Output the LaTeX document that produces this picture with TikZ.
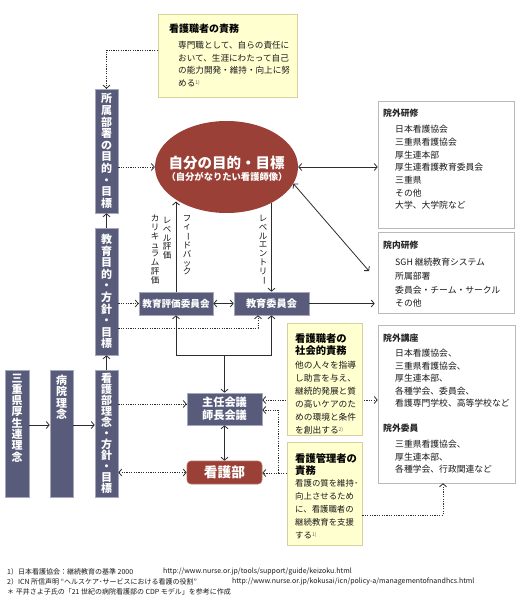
\documentclass[tikz,border=0pt]{standalone}
\usepackage{fontspec}
\setmainfont{Noto Sans CJK JP}
\usepackage{graphicx}
\usetikzlibrary{arrows.meta,shapes.geometric}
\definecolor{barc}{RGB}{88,91,121}
\definecolor{barb}{RGB}{165,167,190}
\definecolor{redc}{RGB}{154,64,54}
\definecolor{yelf}{RGB}{255,255,208}
\definecolor{yeld}{RGB}{214,208,160}
\definecolor{boxd}{RGB}{185,185,185}
\definecolor{lnc}{RGB}{45,45,45}
\newcommand{\tcho}{\rotatebox[origin=c]{-90}{ー}}
\begin{document}
\begin{tikzpicture}[x=1pt,y=-1pt,
  >={Straight Barb[length=3pt,width=7pt]},
  myln/.style={draw=lnc,line width=0.8pt},
  mydt/.style={draw=lnc,line width=0.8pt,dash pattern=on 1.2pt off 1.2pt},
  mybar/.style={rectangle,fill=barc,draw=barb,line width=0.6pt,inner sep=0pt,text=white,align=center,font=\bfseries\fontsize{11}{11.6}\selectfont},
  barlbl/.style={anchor=north,inner sep=0pt,text=white,align=center,font=\bfseries\fontsize{11}{11.3}\selectfont},
  mycbox/.style={rectangle,fill=barc,draw=barb,line width=0.6pt,inner sep=0pt,text=white,font=\bfseries\fontsize{9.6}{11}\selectfont},
  myybox/.style={rectangle,fill=yelf,draw=yeld,line width=0.6pt},
  mywbox/.style={rectangle,fill=white,draw=boxd,line width=0.6pt},
  myttl/.style={anchor=west,inner sep=0pt,text=black!85,font=\bfseries\fontsize{8.8}{10}\selectfont},
  myitm/.style={anchor=north west,inner sep=0pt,align=left,text=black!90,font=\fontsize{8.8}{12.7}\selectfont},
  vlab/.style={anchor=north,inner sep=0pt,align=center,text=black!90,font=\fontsize{8.5}{8.75}\selectfont},
  myfn/.style={anchor=west,inner sep=0pt,text=black!90,font=\fontsize{7}{8}\selectfont}]
\useasboundingbox (0,0) rectangle (520,612);
\fill[white] (0,0) rectangle (520,612);

% left bars
\node[mybar,minimum width=23,minimum height=124] (b1) at (106.5,151) {所\\属\\部\\署\\の\\目\\的\\・\\目\\標};
\node[mybar,minimum width=23,minimum height=127] (b2) at (106.5,291.5) {教\\育\\目\\的\\・\\方\\針\\・\\目\\標};
\node[mybar,minimum width=23,minimum height=127,font=\bfseries\fontsize{11}{11}\selectfont] (b3) at (106.5,433.5) {看\\護\\部\\理\\念\\・\\方\\針\\・\\目\\標};
\node[mybar,minimum width=24,minimum height=127] (b4) at (17,433.5) {};
\node[barlbl] (b4t) at (17,373.5) {三\\重\\県\\厚\\生\\連\\理\\念};
\node[mybar,minimum width=23,minimum height=127] (b5) at (61.5,433.5) {};
\node[barlbl] (b5t) at (61.5,375) {病\\院\\理\\念};

% committees
\node[mycbox,minimum width=74,minimum height=23] (c1) at (176,303.5) {教育評価委員会};
\node[mycbox,minimum width=75,minimum height=23,font=\bfseries\fontsize{10.2}{12}\selectfont] (c2) at (271.5,303.5) {教育委員会};
\node[mycbox,minimum width=75,minimum height=32,align=center,font=\bfseries\fontsize{11.2}{12.6}\selectfont] (m1) at (224.5,409) {主任会議\\師長会議};
\node[rectangle,rounded corners=4pt,fill=redc,draw=redc!75!white,line width=0.6pt,minimum width=75,minimum height=23,inner sep=0pt,text=white,font=\bfseries\fontsize{13.7}{15}\selectfont] (kb) at (224.5,472.5) {看護部};

% ellipse
\node[ellipse,fill=redc,minimum width=143,minimum height=92,inner sep=0pt] (ell) at (226.5,167) {};
\node[inner sep=0pt,text=white,font=\bfseries\fontsize{14.5}{16}\selectfont] (et1) at (226.5,163) {自分の目的・目標};
\node[inner sep=0pt,text=white,font=\bfseries\fontsize{9.3}{11}\selectfont] (et2) at (227,176.5) {（自分がなりたい看護師像）};

% right boxes
\node[mywbox,minimum width=136,minimum height=127] (r1) at (446,164.5) {};
\node[myttl] (r1t) at (383,113) {院外研修};
\node[myitm] (r1i) at (395,125) {日本看護協会\\三重県看護協会\\厚生連本部\\厚生連看護教育委員会\\三重県\\その他\\大学、大学院など};
\node[mywbox,minimum width=136,minimum height=81] (r2) at (446,272.5) {};
\node[myttl] (r2t) at (383,245) {院内研修};
\node[myitm,font=\fontsize{8.8}{13.7}\selectfont] (r2i) at (395,258) {SGH 継続教育システム\\所属部署\\委員会・チーム・サークル\\その他};
\node[mywbox,minimum width=137,minimum height=158] (r3) at (446.5,404) {};
\node[myttl] (r3t) at (383,338) {院外講座};
\node[myitm,font=\fontsize{8.8}{12.5}\selectfont] (r3i) at (395,349) {日本看護協会、\\三重県看護協会、\\厚生連本部、\\各種学会、委員会、\\看護専門学校、高等学校など};
\node[myttl] (r3t2) at (383,428) {院外委員};
\node[myitm,font=\fontsize{8.8}{12.5}\selectfont] (r3j) at (395,440) {三重県看護協会、\\厚生連本部、\\各種学会、行政関連など};

% top yellow box
\node[myybox,minimum width=139,minimum height=83] (y1) at (227.5,55.5) {};
\node[anchor=west,inner sep=0pt,font=\bfseries\fontsize{10}{12}\selectfont] (y1t) at (169,29) {看護職者の責務};
\node[myitm,font=\fontsize{8.6}{12.7}\selectfont] (y1b) at (178,41) {専門職として、自らの責任に\\おいて、生涯にわたって自己\\の能力開発・維持・向上に努\\める{\fontsize{5}{6}\selectfont\textsuperscript{\color{black!60}1)}}};

% vertical labels
\node[vlab] (lf) at (187,215) {フ\\ィ\\\tcho\\ド\\バ\\ッ\\ク};
\node[vlab] (ll) at (167,217) {レ\\ベ\\ル\\評\\価};
\node[vlab] (lk) at (155,215) {カ\\リ\\キ\\ュ\\ラ\\ム\\評\\価};
\node[vlab] (le) at (263,215) {レ\\ベ\\ル\\エ\\ン\\ト\\リ\\\tcho};

% connectors
\coordinate (r2in) at (369,271);
\draw[myln,<->] (ell.east) -- (r1.west |- ell.east);
\draw[myln,<->] (ell.-14) -- (r2in);
\draw[myln,->,shorten >=3pt] (c2.east) -- (r2.west |- c2.east);
\draw[myln,<->] (c1.east) -- (c2.west);
\draw[myln,->] (c1.north) -- (c1.north |- ell.216);
\draw[myln,->] (c2.north |- ell.322) -- (c2.north);
\draw[mydt,->] (y1.west |- 0,50) -- (b1.north |- 0,50) -- (b1.north);
\draw[mydt,->] (b1.east |- ell.west) -- (ell.west);
\draw[mydt,->] (b2.east |- c1.west) -- (c1.west);
\draw[mydt,->] (b2.east |- 0,328) -| ([xshift=-13.5pt]c2.south);
\draw[myln,->] (b2.north) -- (b1.south);
\draw[myln,->] (b3.north) -- (b2.south);
\draw[myln,->] (b4.east |- 0,425) -- (b5.west |- 0,425);
\draw[myln,->] (b5.east |- 0,425) -- (b3.west |- 0,425);
\draw[myln,<->] (c1.south) -- (c1.south |- 0,355) -- (c2.south |- 0,355) -- (c2.south);
\draw[myln,->] (m1.north |- 0,355) -- (m1.north);
\draw[myln,<->] (m1.south) -- (kb.north);
\draw[mydt,->] (b3.east |- 0,404) -- (m1.west |- 0,404);
\draw[mydt,<->] (b3.east |- kb.west) -- (kb.west);
\draw[mydt,<->] (m1.east |- 0,400) -- (r3.west |- 0,400);

% yellow boxes lower
\node[myybox,minimum width=75,minimum height=112] (y2) at (324.5,379) {};
\node[anchor=north west,inner sep=0pt,align=left,font=\bfseries\fontsize{10.3}{12.5}\selectfont] (y2t) at (295,333) {看護職者の\\社会的責務};
\node[myitm,font=\fontsize{8.7}{13}\selectfont] (y2b) at (295,361) {他の人々を指導\\し助言を与え、\\継続的発展と質\\の高いケアのた\\めの環境と条件\\を創出する{\fontsize{5}{6}\selectfont\textsuperscript{\color{black!60}2)}}};
\node[myybox,minimum width=75,minimum height=103] (y3) at (324.5,493.5) {};
\node[anchor=north west,inner sep=0pt,align=left,font=\bfseries\fontsize{10.3}{12.5}\selectfont] (y3t) at (295,453) {看護管理者の\\責務};
\node[myitm,font=\fontsize{8.4}{13}\selectfont] (y3b) at (295,479) {看護の質を維持･\\向上させるため\\に、看護職者の\\継続教育を支援\\する{\fontsize{5}{6}\selectfont\textsuperscript{\color{black!60}1)}}};

\coordinate (jv) at (278,410);
\draw[mydt,->] (y3.west |- 0,473) -- (kb.east |- 0,473);
\draw[mydt,->] (jv |- 0,473) -- (jv) -- (m1.east |- jv);
\draw[mydt,->] (y3.east |- 0,515) -| ([xshift=-3.5pt]r3.south);

% footnotes
\node[myfn] (f1) at (7,572) {1）日本看護協会：継続教育の基準 2000};
\node[myfn] (f1u) at (163,572) {http://www.nurse.or.jp/tools/support/guide/keizoku.html};
\node[myfn] (f2) at (7,581.5) {2）ICN 所信声明 “ヘルスケア･サービスにおける看護の役割”};
\node[myfn] (f2u) at (232,581.5) {http://www.nurse.or.jp/kokusai/icn/policy-a/managementofnandhcs.html};
\node[myfn] (f3) at (7,591.5) {＊ 平井さよ子氏の「21 世紀の病院看護部の CDP モデル」を参考に作成};
\end{tikzpicture}
\end{document}
